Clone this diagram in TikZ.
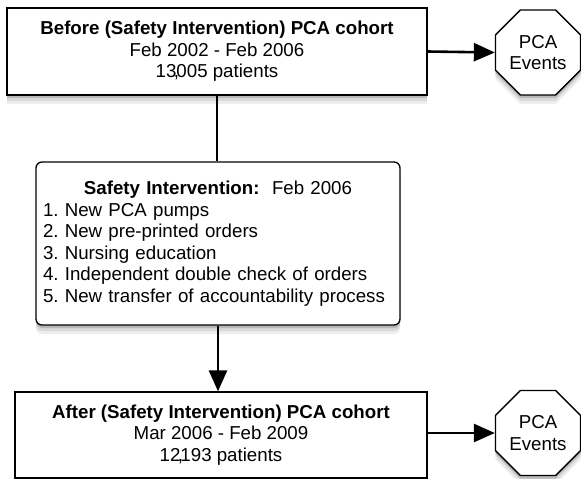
\documentclass[tikz,border=0pt]{standalone}
\usepackage{fontspec}
\setmainfont{Liberation Sans}
\usepackage{tikz}
\usetikzlibrary{shapes.geometric,shadows,arrows.meta}

\begin{document}
\frenchspacing
\begin{tikzpicture}[x=1pt,y=-1pt,
  every node/.style={font=\fontsize{18.7}{21.5}\selectfont},
  myshadow/.style={drop shadow={shadow xshift=0pt,shadow yshift=-9pt,opacity=1,fill=black!7},
    drop shadow={shadow xshift=0pt,shadow yshift=-6pt,opacity=1,fill=black!15},
    drop shadow={shadow xshift=0pt,shadow yshift=-3pt,opacity=1,fill=black!28}},
  cohort/.style={draw,line width=1.3pt,fill=white,inner sep=0pt,align=center,myshadow},
  events/.style={draw,line width=1.3pt,fill=white,regular polygon,regular polygon sides=8,
    minimum size=92pt,inner sep=0pt,align=center,myshadow},
  link/.style={line width=2.6pt},
  arr/.style={link,-{Triangle[length=21pt,width=18pt]}}]
\useasboundingbox (0,0) rectangle (581,479);

\node[cohort,minimum width=420pt,minimum height=87pt] (before) at (217,51.5)
  {\textbf{Before (Safety Intervention) PCA cohort}\\Feb 2002 - Feb 2006\\13\makebox[0pt]{,}005 patients};
\node[events] (evbefore) at (538,52.5) {PCA\\Events};

\node[cohort,rounded corners=6pt,minimum width=364pt,minimum height=163pt,
  text width=350pt,align=left] (interv) at (218,243.5)
  {\centerline{\textbf{Safety Intervention:}\ \ Feb 2006}
   1. New PCA pumps\\
   2. New pre-printed orders\\
   3. Nursing education\\
   4. Independent double check of orders\\
   5. New transfer of accountability process};

\node[cohort,minimum width=412pt,minimum height=86pt] (after) at (221,435)
  {\textbf{After (Safety Intervention) PCA cohort}\\Mar 2006 - Feb 2009\\12\makebox[0pt]{,}193 patients};
\node[events] (evafter) at (538,433) {PCA\\Events};

\draw[arr] (before.east) -- (evbefore.west);
\draw[link] (before.south) -- (before.south |- interv.north);
\draw[arr] (interv.south) -- (interv.south |- after.north);
\draw[arr] (after.east |- evafter.west) -- (evafter.west);

\end{tikzpicture}
\end{document}
